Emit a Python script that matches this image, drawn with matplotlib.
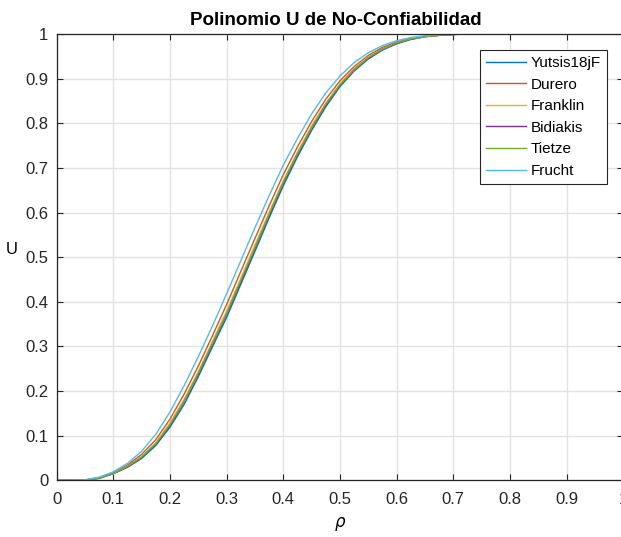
import numpy as np
import matplotlib
matplotlib.use('Agg')
from matplotlib import pyplot as plt

plt.rcParams['font.family'] = ['Liberation Sans', 'DejaVu Sans']

# rho grid (step 0.025) and U(rho)
rho = np.linspace(0, 1, 41)

tail = [1.0] * 12  # rho = 0.725 .. 1.0

yutsis = [0.0, 0.0, 0.0001, 0.004, 0.015, 0.029, 0.049, 0.078, 0.119, 0.170,
          0.232, 0.299, 0.365, 0.439, 0.513, 0.588, 0.660, 0.725, 0.784, 0.837,
          0.882, 0.917, 0.944, 0.964, 0.978, 0.988, 0.994, 0.997, 0.999] + tail
durero = [0.0, 0.0, 0.001, 0.006, 0.017, 0.034, 0.058, 0.091, 0.137, 0.193,
          0.256, 0.324, 0.394, 0.468, 0.542, 0.615, 0.685, 0.747, 0.804, 0.854,
          0.895, 0.927, 0.952, 0.970, 0.982, 0.990, 0.995, 0.998, 0.999] + tail
franklin = [0.0, 0.0, 0.0003, 0.005, 0.016, 0.031, 0.053, 0.084, 0.128, 0.181,
            0.243, 0.311, 0.379, 0.452, 0.527, 0.600, 0.671, 0.735, 0.794, 0.845,
            0.888, 0.922, 0.948, 0.967, 0.980, 0.989, 0.994, 0.997, 0.999] + tail
bidiakis = [0.0, 0.0, 0.0002, 0.005, 0.015, 0.030, 0.051, 0.081, 0.123, 0.176,
            0.238, 0.305, 0.372, 0.445, 0.520, 0.594, 0.666, 0.730, 0.789, 0.841,
            0.885, 0.920, 0.946, 0.966, 0.979, 0.988, 0.994, 0.997, 0.999] + tail
tietze = [0.0, 0.0, 0.0002, 0.005, 0.015, 0.031, 0.052, 0.082, 0.125, 0.177,
          0.240, 0.307, 0.374, 0.448, 0.522, 0.596, 0.668, 0.732, 0.790, 0.843,
          0.886, 0.920, 0.947, 0.966, 0.980, 0.989, 0.994, 0.997, 0.999] + tail
frucht = [0.0, 0.0, 0.001, 0.007, 0.019, 0.038, 0.065, 0.103, 0.153, 0.212,
          0.277, 0.346, 0.418, 0.492, 0.566, 0.638, 0.706, 0.766, 0.821, 0.868,
          0.906, 0.936, 0.958, 0.974, 0.985, 0.992, 0.996, 0.998, 0.999] + tail

names = ['Yutsis18jF', 'Durero', 'Franklin', 'Bidiakis', 'Tietze', 'Frucht']
series = [yutsis, durero, franklin, bidiakis, tietze, frucht]
colors = ['#0072BD', '#D95319', '#EDB120', '#7E2F8E', '#77AC30', '#4DBEEE']
ticklabels = ['0', '0.1', '0.2', '0.3', '0.4', '0.5', '0.6', '0.7', '0.8', '0.9', '1']

fig = plt.figure(figsize=(6.21, 5.37), dpi=100)
ax = fig.add_axes([56.6 / 621, 1 - 480.3 / 537, 566.7 / 621, 446.3 / 537])

for name, u, c in zip(names, series, colors):
    ax.plot(rho, u, color=c, lw=1.0, label=name)

ax.set_xlim(0, 1)
ax.set_ylim(0, 1)
ax.set_xticks(np.arange(0, 1.01, 0.1))
ax.set_yticks(np.arange(0, 1.01, 0.1))
ax.set_xticklabels(ticklabels)
ax.set_yticklabels(ticklabels)
ax.grid(True, color='#e3e3e3', lw=1.0)
ax.set_axisbelow(True)
ax.tick_params(direction='in', length=4, width=0.8, colors='#262626',
               labelsize=12, top=True, right=True)
ax.tick_params(axis='x', pad=8.5)
ax.tick_params(axis='y', pad=6)
for s in ax.spines.values():
    s.set_color('#262626')
    s.set_linewidth(0.9)

ax.set_title('Polinomio U de No-Confiabilidad', fontsize=13.5, fontweight='bold',
             pad=6.5, x=0.492)
ax.set_xlabel(r'$\rho$', fontsize=12, labelpad=6)
ax.set_ylabel('U', fontsize=12, rotation=0)
ax.yaxis.set_label_coords(-0.079, 0.50)

leg = ax.legend(loc='upper right', bbox_to_anchor=(0.9707, 0.9647), fontsize=11,
                fancybox=False, framealpha=1, edgecolor='#262626',
                handlelength=2.6, labelspacing=0.5, borderpad=0.4, handletextpad=0.3,
                borderaxespad=0)
leg.get_frame().set_linewidth(0.8)

fig.savefig('out.png', dpi=100)
